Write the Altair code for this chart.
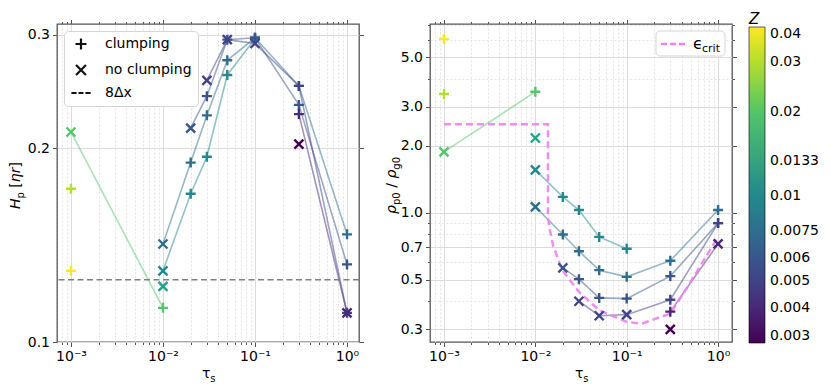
import altair as alt
import pandas as pd

# ---------------- data ----------------
Z_TICKS = [0.003, 0.004, 0.005, 0.006, 0.0075, 0.01, 0.0133, 0.02, 0.03, 0.04]

Z = [0.04,
     0.03,
     0.02, 0.02,
     0.0133,
     0.01, 0.01, 0.01, 0.01, 0.01,
     0.0075, 0.0075, 0.0075, 0.0075, 0.0075, 0.0075, 0.0075,
     0.006, 0.006, 0.006, 0.006, 0.006, 0.006,
     0.005, 0.005, 0.005, 0.005, 0.005,
     0.004, 0.004,
     0.003]
TAU = [0.001,
       0.001,
       0.001, 0.01,
       0.01,
       0.01, 0.02, 0.03, 0.05, 0.1,
       0.01, 0.02, 0.03, 0.05, 0.1, 0.3, 1.0,
       0.02, 0.03, 0.05, 0.1, 0.3, 1.0,
       0.03, 0.05, 0.1, 0.3, 1.0,
       0.3, 1.0,
       0.3]
HP = [0.129,
      0.173,
      0.212, 0.113,
      0.122,
      0.129, 0.170, 0.194, 0.260, 0.296,
      0.142, 0.190, 0.225, 0.274, 0.297, 0.250, 0.147,
      0.215, 0.241, 0.295, 0.297, 0.2336, 0.132,
      0.255, 0.295, 0.291, 0.250, 0.111,
      0.226, 0.111,
      0.203]
RHO = [6.05,
       3.42,
       1.88, 3.5,
       2.17,
       1.56, 1.18, 1.03, 0.78, 0.69,
       1.064, 0.80, 0.673, 0.553, 0.516, 0.61, 1.03,
       0.566, 0.504, 0.415, 0.412, 0.52, 0.90,
       0.401, 0.345, 0.349, 0.407, 0.90,
       0.36, 0.726,
       0.30]
CLUMP = ["c", "c", "n", "c", "n",
         "n", "c", "c", "c", "c",
         "n", "c", "c", "c", "c", "c", "c",
         "n", "c", "c", "c", "c", "c",
         "n", "n", "n", "c", "c",
         "c", "n",
         "n"]

HLINE = [0.125]  # 8 dx level

EPS_TAU = [0.001, 0.01374, 0.01374, 0.0145, 0.0156, 0.0197, 0.03, 0.05, 0.1, 0.146, 0.3, 0.5, 1.0]
EPS_VAL = [2.5, 2.5, 0.95, 0.83, 0.716, 0.553, 0.442, 0.365, 0.324, 0.318, 0.353, 0.49, 0.78]

SHAPE_LABELS = ["clumping", "no clumping", "8Δx"]
X_MAJOR = [0.001, 0.01, 0.1, 1]
X_MAJOR_LABELS = ["10⁻³", "10⁻²", "10⁻¹", "10⁰"]
YL_TICKS = [0.1, 0.2, 0.3]
YR_TICKS = [0.3, 0.4, 0.5, 0.6, 0.7, 0.8, 0.9, 1.0, 2.0, 3.0, 4.0, 5.0, 6.0, 7.0]
YR_LABELED = [0.3, 0.5, 0.7, 1.0, 2.0, 3.0, 5.0]

# ---------------- tables ----------------
df = pd.DataFrame({"tau": TAU, "Hp": HP, "rho": RHO, "Z": Z,
                   "clump": [SHAPE_LABELS[0] if c == "c" else SHAPE_LABELS[1] for c in CLUMP]})
df_h = pd.DataFrame({"Hp": HLINE})
df_e = pd.DataFrame({"tau": EPS_TAU, "rho": EPS_VAL, "i": list(range(len(EPS_TAU)))})

# ---------------- styling helpers ----------------
PLUS = "M-1,0L1,0M0,-1L0,1"
CROSS = "M-0.9,-0.9L0.9,0.9M-0.9,0.9L0.9,-0.9"
DASH = "M-1.75,0L-0.8,0M-0.45,0L0.45,0M0.8,0L1.75,0"

XDOM_L = [7.05e-4, 1.35]
XDOM_R = [7.03e-4, 1.42]
YDOM_L = [0.1, 0.312]
YDOM_R = [0.263, 7.06]
W, H = 302, 318


def log_ticks(lo, hi):
    out = []
    for e in range(-4, 2):
        for m in range(1, 10):
            v = float(f"{m}e{e}")
            if lo <= v <= hi:
                out.append(v)
    return out


def in_list(lst):
    return "indexof([" + ",".join(repr(v) for v in lst) + "], datum.value) >= 0"


X_TEST = in_list(X_MAJOR)
x_label_expr = "".join(f"datum.value == {v} ? '{s}' : " for v, s in zip(X_MAJOR, X_MAJOR_LABELS)) + "''"


def axis(values, test, label_expr):
    return alt.Axis(values=values, labelExpr=label_expr, title=None, labelOverlap=False,
                    labelFlush=False, labelPadding=3, labelFontSize=14,
                    tickSize={"condition": {"test": test, "value": 4.5}, "value": 2.5},
                    tickColor="#555555", tickWidth=1, grid=True,
                    gridColor={"condition": {"test": test, "value": "#dcdcdc"}, "value": "#e4e4e4"},
                    gridDash={"condition": {"test": test, "value": []}, "value": [2, 2]},
                    gridWidth=1)


def mirror_axis(values, test, orient):
    return alt.Axis(values=values, orient=orient, labels=False, title=None, grid=False,
                    tickSize={"condition": {"test": test, "value": 4.5}, "value": 2.5},
                    tickColor="#555555", tickWidth=1)


color_scale = alt.Scale(type="log", domain=[0.003, 0.04], scheme="viridis")
color_legend = alt.Legend(title="Z", orient="none", legendX=692, legendY=-12, direction="vertical",
                          gradientLength=316, gradientThickness=16, values=Z_TICKS, format="~g",
                          labelFontSize=14, titleFontSize=15, titleFontStyle="italic",
                          titleFontWeight="normal", labelOverlap=False, gradientStrokeColor="black",
                          gradientStrokeWidth=0.6, gradientOpacity=1, labelOffset=5, titlePadding=0)
color = alt.Color("Z:Q", scale=color_scale, legend=color_legend)

shape_scale = alt.Scale(domain=SHAPE_LABELS, range=[PLUS, CROSS, DASH])
shape_legend = alt.Legend(
    title=None, orient="top-left", offset=7, padding=6, rowPadding=6, symbolSize=121,
    symbolStrokeWidth=2.2, symbolStrokeColor="#111111", symbolFillColor="transparent",
    symbolOffset=4, labelOffset=17, labelFontSize=14, fillColor="white",
    strokeColor="#d5d5d5", cornerRadius=4)


def txt(s, x, y, size=14, angle=0, dx=0, dy=0, style="normal"):
    return alt.Chart(pd.DataFrame({"s": [s]})).mark_text(
        align="left", baseline="alphabetic", fontSize=size, angle=angle, dx=dx, dy=dy,
        fontStyle=style, color="black", font="DejaVu Sans").encode(
        x=alt.value(x), y=alt.value(y), text="s:N")


def xtitle():
    return [txt("τ", 145, 354), txt("s", 145, 354, size=10, dx=8.2, dy=3.5)]


# ---------------- left panel ----------------
sxL = alt.Scale(type="log", domain=XDOM_L, nice=False)
syL = alt.Scale(type="log", domain=YDOM_L, nice=False)
xL = alt.X("tau:Q", scale=sxL, axis=axis(log_ticks(*XDOM_L), X_TEST, x_label_expr))
yL = alt.Y("Hp:Q", scale=syL, axis=axis(YL_TICKS, "true", "format(datum.value, '.1f')"))
xLn = alt.X("tau:Q", scale=sxL, axis=None)
yLn = alt.Y("Hp:Q", scale=syL, axis=None)

lines_L = alt.Chart(df).mark_line(strokeWidth=1.6, opacity=0.5).encode(
    x=xL, y=yL, color=color, detail="Z:N")
mirror_L = alt.Chart(df).mark_point(opacity=0).encode(
    x=alt.X("tau:Q", scale=sxL, axis=mirror_axis(log_ticks(*XDOM_L), X_TEST, "top")),
    y=alt.Y("Hp:Q", scale=syL, axis=mirror_axis(YL_TICKS, "true", "right")))
rule_L = alt.Chart(df_h).mark_rule(color="#808080", strokeDash=[6, 3.5], strokeWidth=1.5).encode(y=yLn)
pts_L = alt.Chart(df).mark_point(filled=False, strokeWidth=2.4, size=100, opacity=1).encode(
    x=xLn, y=yLn, color=color, shape=alt.Shape("clump:N", scale=shape_scale, legend=shape_legend))

ytitle_L = [txt("H", -37, 185, style="italic", angle=270),
            txt("p", -37, 185, size=10, angle=270, dx=10.5, dy=3.5),
            txt("[", -37, 185, angle=270, dx=21.3),
            txt("ηr", -37, 185, angle=270, dx=26.8, style="italic"),
            txt("]", -37, 185, angle=270, dx=41.5)]

left = alt.layer(lines_L, mirror_L, rule_L, pts_L, *ytitle_L, *xtitle()).resolve_axis(
    x="independent", y="independent").properties(width=W, height=H)

# ---------------- right panel ----------------
sxR = alt.Scale(type="log", domain=XDOM_R, nice=False)
syR = alt.Scale(type="log", domain=YDOM_R, nice=False)
YR_TEST = in_list(YR_LABELED)
xR = alt.X("tau:Q", scale=sxR, axis=axis(log_ticks(*XDOM_R), X_TEST, x_label_expr))
yR = alt.Y("rho:Q", scale=syR,
           axis=axis(YR_TICKS, YR_TEST, f"{YR_TEST} ? format(datum.value, '.1f') : ''"))
xRn = alt.X("tau:Q", scale=sxR, axis=None)
yRn = alt.Y("rho:Q", scale=syR, axis=None)

lines_R = alt.Chart(df).mark_line(strokeWidth=1.6, opacity=0.5).encode(
    x=xR, y=yR, color=color, detail="Z:N")
mirror_R = alt.Chart(df).mark_point(opacity=0).encode(
    x=alt.X("tau:Q", scale=sxR, axis=mirror_axis(log_ticks(*XDOM_R), X_TEST, "top")),
    y=alt.Y("rho:Q", scale=syR, axis=mirror_axis(YR_TICKS, YR_TEST, "right")))
eps_R = alt.Chart(df_e).mark_line(color="#ee82ee", strokeDash=[7, 4], strokeWidth=2.5, opacity=0.9).encode(
    x=xRn, y=yRn, order="i:Q")
pts_R = alt.Chart(df).mark_point(filled=False, strokeWidth=2.4, size=100, opacity=1).encode(
    x=xRn, y=yRn, color=color, shape=alt.Shape("clump:N", scale=shape_scale, legend=None))

one = pd.DataFrame({"k": [0]})
leg_box = alt.Chart(one).mark_rect(fill="white", stroke="#d5d5d5", cornerRadius=4, strokeWidth=1).encode(
    x=alt.value(226), x2=alt.value(295), y=alt.value(7), y2=alt.value(32))
leg_line = alt.Chart(one).mark_rule(color="#ee82ee", strokeDash=[6, 3], strokeWidth=2.5).encode(
    x=alt.value(231), x2=alt.value(255), y=alt.value(20))
leg_txt = [txt("ϵ", 263, 25, size=16), txt("crit", 272, 28, size=11)]

ytitle_R = [txt("ρ", -34, 190, angle=270, style="italic"),
            txt("p0", -34, 190, size=10, angle=270, dx=9, dy=3.5),
            txt("/", -34, 190, angle=270, dx=26.2),
            txt("ρ", -34, 190, angle=270, dx=35.4, style="italic"),
            txt("g0", -34, 190, size=10, angle=270, dx=44.3, dy=3.5)]

right = alt.layer(lines_R, mirror_R, eps_R, pts_R, leg_box, leg_line, *leg_txt, *ytitle_R,
                  *xtitle()).resolve_axis(x="independent", y="independent").properties(width=W, height=H)

chart = alt.hconcat(left, right, spacing=19).resolve_scale(
    x="independent", y="independent", color="shared", shape="independent").resolve_legend(
    color="shared", shape="independent").properties(
    padding={"left": 0, "top": 4, "right": 0, "bottom": 0}).configure(
    font="DejaVu Sans").configure_view(stroke="#555555", strokeWidth=1.3).configure_axis(
    domain=False, labelColor="black", labelFont="DejaVu Sans")

chart.save("out.html", embed_options={"renderer": "svg", "actions": False})
